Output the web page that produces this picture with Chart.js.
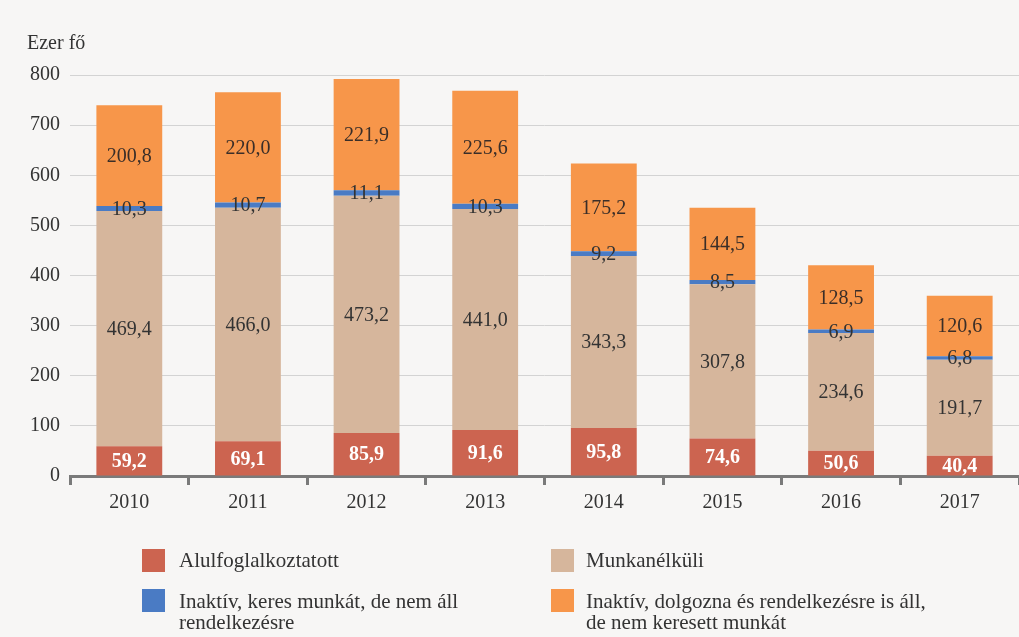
<!DOCTYPE html>
<html>
<head>
<meta charset="utf-8">
<script src="https://cdn.jsdelivr.net/npm/chart.js@4.4.0/dist/chart.umd.min.js"></script>
<style>
  html, body { margin:0; padding:0; background:#f7f6f5; }
  #wrap { position:relative; width:1019px; height:637px; font-family:"Liberation Serif", serif; color:#333; }
  #c { position:absolute; left:0; top:0; }
  .ytitle { position:absolute; left:27px; top:31px; font-size:20px; color:#333; }
  .lg { position:absolute; font-size:21px; line-height:21px; color:#333; white-space:nowrap; }
  .sw { position:absolute; width:23px; height:23px; }
</style>
</head>
<body>
<div id="wrap">
  <canvas id="c" width="1019" height="637"></canvas>
  <div class="ytitle">Ezer fő</div>
  <div id="legend"></div>
</div>
<script>
const categories = ['2010','2011','2012','2013','2014','2015','2016','2017'];
const alulfoglalkoztatott = [59.2, 69.1, 85.9, 91.6, 95.8, 74.6, 50.6, 40.4];
const munkanelkuli = [469.4, 466.0, 473.2, 441.0, 343.3, 307.8, 234.6, 191.7];
const inaktivKeres = [10.3, 10.7, 11.1, 10.3, 9.2, 8.5, 6.9, 6.8];
const inaktivDolgozna = [200.8, 220.0, 221.9, 225.6, 175.2, 144.5, 128.5, 120.6];
const seriesNames = ['Alulfoglalkoztatott', 'Munkanélküli', 'Inaktív, keres munkát, de nem áll rendelkezésre', 'Inaktív, dolgozna és rendelkezésre is áll, de nem keresett munkát'];
const yTicks = [0,100,200,300,400,500,600,700,800];

const colors = ['#cc6450', '#d6b69c', '#4a7bc4', '#f7964a'];
const labelColors = ['#ffffff', '#333333', '#333333', '#3a2e28'];

const fmt = v => v.toFixed(1).replace('.', ',');

const labelPlugin = {
  id: 'segLabels',
  afterDatasetsDraw(chart) {
    const ctx = chart.ctx;
    ctx.save();
    ctx.textAlign = 'center';
    ctx.textBaseline = 'middle';
    chart.data.datasets.forEach((ds, di) => {
      const meta = chart.getDatasetMeta(di);
      meta.data.forEach((bar, i) => {
        const v = ds.data[i];
        const y = (bar.y + bar.base) / 2;
        ctx.font = (di === 0 ? 'bold ' : '') + '20px "Liberation Serif", serif';
        ctx.fillStyle = labelColors[di];
        ctx.fillText(fmt(v), bar.x, y + 1);
      });
    });
    ctx.restore();
  }
};

new Chart(document.getElementById('c'), {
  type: 'bar',
  data: {
    labels: categories,
    datasets: [
      { label: seriesNames[0], data: alulfoglalkoztatott, backgroundColor: colors[0] },
      { label: seriesNames[1], data: munkanelkuli, backgroundColor: colors[1] },
      { label: seriesNames[2], data: inaktivKeres, backgroundColor: colors[2] },
      { label: seriesNames[3], data: inaktivDolgozna, backgroundColor: colors[3] }
    ]
  },
  options: {
    responsive: false,
    animation: false,
    devicePixelRatio: 1,
    layout: { padding: { top: 75, right: 0, bottom: 111, left: 0 } },
    datasets: { bar: { barPercentage: 0.555, categoryPercentage: 1.0 } },
    plugins: { legend: { display: false }, tooltip: { enabled: false } },
    scales: {
      x: {
        stacked: true,
        afterFit(scale) { scale.height = 50; },
        grid: { display: true, drawOnChartArea: false, drawTicks: true, tickLength: 9, color: '#7a7a7a', lineWidth: 3, offset: true },
        border: { display: true, color: '#7a7a7a', width: 3 },
        ticks: { color: '#333', font: { family: '"Liberation Serif", serif', size: 20 }, padding: 6 }
      },
      y: {
        stacked: true,
        min: 0, max: 800,
        afterFit(scale) { scale.width = 70; },
        afterBuildTicks(scale) { scale.ticks = yTicks.map(v => ({ value: v })); },
        grid: { color: '#d3d3d3', lineWidth: 1, drawTicks: false },
        border: { display: false },
        ticks: { color: '#333', font: { family: '"Liberation Serif", serif', size: 20 }, padding: 10 }
      }
    }
  },
  plugins: [labelPlugin]
});

// HTML legend
const lg = document.getElementById('legend');
const pos = [
  { sx: 142, sy: 549, tx: 179, ty: 550, i: 0 },
  { sx: 551, sy: 549, tx: 586, ty: 550, i: 1 },
  { sx: 142, sy: 589, tx: 179, ty: 591, i: 2 },
  { sx: 551, sy: 589, tx: 586, ty: 591, i: 3 }
];
const lines = [
  ['Alulfoglalkoztatott'],
  ['Munkanélküli'],
  ['Inaktív, keres munkát, de nem áll', 'rendelkezésre'],
  ['Inaktív, dolgozna és rendelkezésre is áll,', 'de nem keresett munkát']
];
pos.forEach(p => {
  const s = document.createElement('div');
  s.className = 'sw';
  s.style.left = p.sx + 'px'; s.style.top = p.sy + 'px';
  s.style.background = colors[p.i];
  lg.appendChild(s);
  const t = document.createElement('div');
  t.className = 'lg';
  t.style.left = p.tx + 'px'; t.style.top = p.ty + 'px';
  t.innerHTML = lines[p.i].join('<br>');
  lg.appendChild(t);
});
</script>
</body>
</html>
